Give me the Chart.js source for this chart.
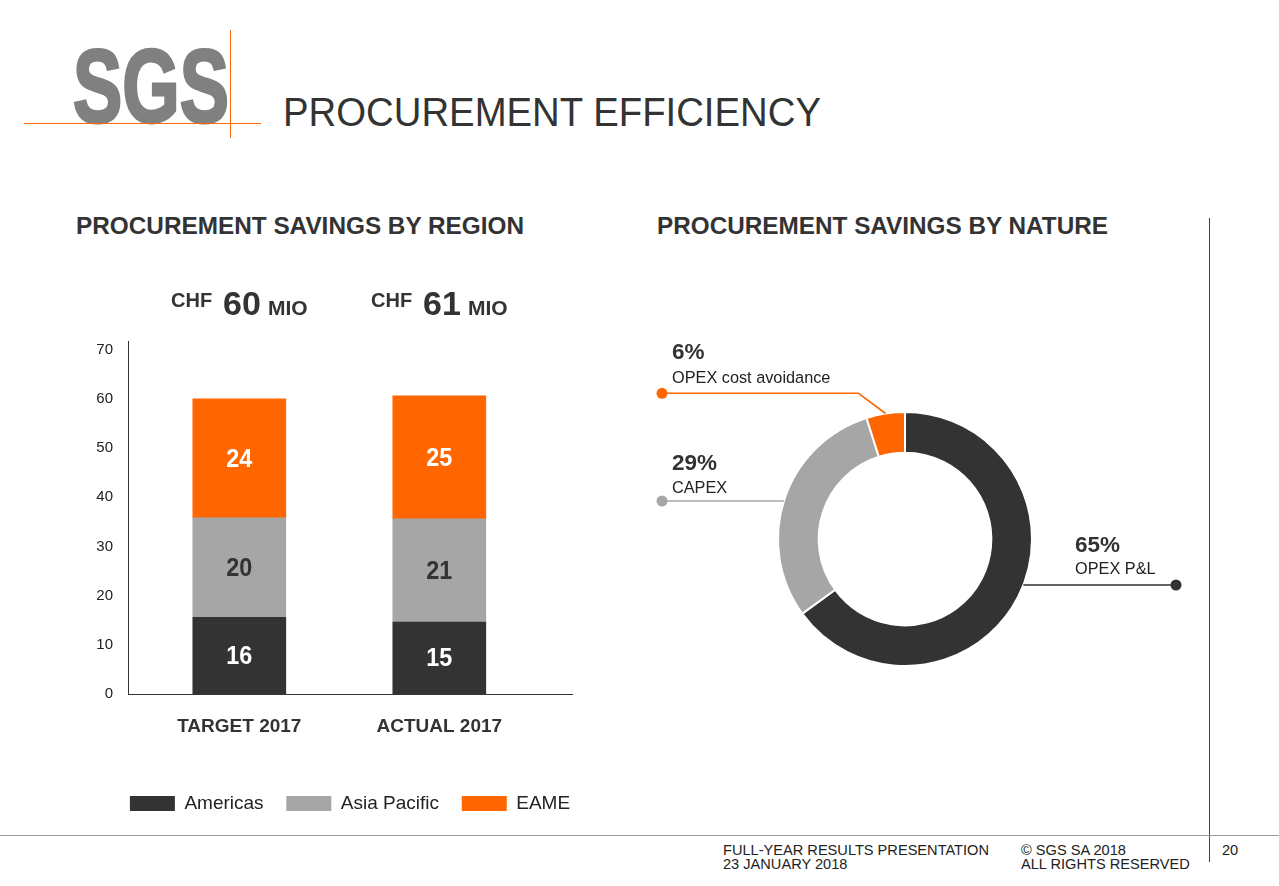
<!DOCTYPE html>
<html>
<head>
<meta charset="utf-8">
<script src="https://cdn.jsdelivr.net/npm/chart.js@4.4.1/dist/chart.umd.min.js"></script>
<style>
html,body{margin:0;padding:0;background:#fff;}
body{width:1279px;height:886px;position:relative;overflow:hidden;font-family:"Liberation Sans",Arial,sans-serif;color:#333;}
.abs{position:absolute;white-space:nowrap;line-height:1;}
.fit{transform-origin:0 0;}
canvas{position:absolute;}
</style>
</head>
<body>
<div class="abs fit" data-w="156" style="left:73px;top:34.3px;font-size:104px;font-weight:bold;color:#808080;-webkit-text-stroke:3px #808080;">SGS</div>
<div class="abs" style="left:24px;top:122.5px;width:237px;height:1.5px;background:#ff6600"></div>
<div class="abs" style="left:229.5px;top:30px;width:1.5px;height:108px;background:#ff6600"></div>
<div class="abs fit" data-w="538" style="left:282.7px;top:91.8px;font-size:40px;color:#333;">PROCUREMENT EFFICIENCY</div>
<div class="abs fit" data-w="448" style="left:76px;top:215.3px;font-size:23.3px;font-weight:bold;color:#333;">PROCUREMENT SAVINGS BY REGION</div>
<div class="abs fit" data-w="451" style="left:657px;top:215.3px;font-size:23.3px;font-weight:bold;color:#333;">PROCUREMENT SAVINGS BY NATURE</div>
<div class="abs" style="left:1208.5px;top:218px;width:1.5px;height:644px;background:#444"></div>
<div class="abs" style="left:0;top:835px;width:1279px;height:1px;background:#999"></div>
<div class="abs" style="left:723px;top:842.6px;font-size:14.6px;color:#222;">FULL-YEAR RESULTS PRESENTATION</div>
<div class="abs" style="left:723px;top:856.6px;font-size:14.6px;color:#222;">23 JANUARY 2018</div>
<div class="abs" style="left:1021px;top:842.6px;font-size:14.6px;color:#222;">© SGS SA 2018</div>
<div class="abs" style="left:1021px;top:856.6px;font-size:14.6px;color:#222;">ALL RIGHTS RESERVED</div>
<div class="abs" style="left:1222px;top:842.6px;font-size:14.6px;color:#222;">20</div>

<canvas id="bar" width="600" height="560" style="left:40px;top:270px;"></canvas>
<canvas id="donut" width="560" height="400" style="left:640px;top:330px;"></canvas>

<script>
// ---- data ----
const regions = ['TARGET 2017', 'ACTUAL 2017'];
const americas = [15.6, 14.6];
const asiaPacific = [20.2, 21.0];
const eame = [24.2, 25.0];
const seriesNames = ['Americas', 'Asia Pacific', 'EAME'];
const yTicks = [0, 10, 20, 30, 40, 50, 60, 70];
const currency = 'CHF';
const unit = 'MIO';

const natureLabels = ['OPEX P&L', 'CAPEX', 'OPEX cost avoidance'];
const natureShares = [65.0, 30.1, 4.9];
const natureShareText = ['65%', '29%', '6%'];

// ---- fit condensed HTML text ----
document.querySelectorAll('.fit').forEach(el => {
  const w = el.getBoundingClientRect().width;
  el.style.transform = 'scaleX(' + (parseFloat(el.dataset.w) / w) + ')';
});

const FAMILY = '"Liberation Sans", Arial, sans-serif';
Chart.defaults.font.family = FAMILY;

const barValueLabels = {
  id: 'barValueLabels',
  afterDatasetsDraw(chart) {
    const ctx = chart.ctx;
    chart.data.datasets.forEach((ds, di) => {
      chart.getDatasetMeta(di).data.forEach((bar, i) => {
        const v = ds.data[i].y;
        ctx.save();
        ctx.font = 'bold 26px ' + FAMILY;
        ctx.fillStyle = ds.labelColor;
        ctx.textAlign = 'center';
        ctx.textBaseline = 'middle';
        ctx.translate(bar.x, (bar.y + bar.base) / 2 + 1);
        ctx.scale(0.9, 1);
        ctx.fillText(String(Math.round(v)), 0, 0);
        ctx.restore();
      });
    });
  }
};

const totalsHeader = {
  id: 'totalsHeader',
  afterDraw(chart) {
    const ctx = chart.ctx;
    const meta = chart.getDatasetMeta(0);
    const top = chart.chartArea.top;
    regions.forEach((r, i) => {
      const total = Math.round(americas[i] + asiaPacific[i] + eame[i]);
      const parts = [
        {t: currency, f: 'bold 20px ' + FAMILY, dy: -34, gap: 11},
        {t: String(total), f: 'bold 34px ' + FAMILY, dy: -26, gap: 7},
        {t: unit, f: 'bold 21px ' + FAMILY, dy: -26, gap: 0}
      ];
      let tw = 0;
      parts.forEach(p => { ctx.font = p.f; p.w = ctx.measureText(p.t).width; tw += p.w + p.gap; });
      let x = meta.data[i].x - tw / 2;
      ctx.save();
      ctx.fillStyle = '#333';
      ctx.textAlign = 'left';
      ctx.textBaseline = 'alphabetic';
      parts.forEach(p => {
        ctx.font = p.f;
        ctx.fillText(p.t, x, top + p.dy);
        x += p.w + p.gap;
      });
      ctx.restore();
    });
  }
};

new Chart(document.getElementById('bar'), {
  type: 'bar',
  data: {
    datasets: [
      {label: seriesNames[0], data: americas.map((v, i) => ({x: i, y: v})), backgroundColor: '#333333', labelColor: '#ffffff'},
      {label: seriesNames[1], data: asiaPacific.map((v, i) => ({x: i, y: v})), backgroundColor: '#a6a6a6', labelColor: '#333333'},
      {label: seriesNames[2], data: eame.map((v, i) => ({x: i, y: v})), backgroundColor: '#ff6600', labelColor: '#ffffff'}
    ]
  },
  options: {
    responsive: false,
    animation: false,
    devicePixelRatio: 1,
    layout: {padding: {left: 38, right: 18, top: 71, bottom: 7}},
    datasets: {bar: {barThickness: 93}},
    scales: {
      x: {
        type: 'linear', stacked: true, offset: false, min: -0.5565, max: 1.6635,
        grid: {display: false, drawTicks: false, offset: false},
        border: {display: true, color: '#333', width: 1},
        ticks: {stepSize: 1, padding: 21, autoSkip: false, maxRotation: 0,
          font: {size: 19, weight: 'bold'}, color: '#333',
          callback: v => (regions[v] !== undefined ? regions[v] : '')},
        afterBuildTicks: s => { s.ticks = regions.map((r, i) => ({value: i})); },
        afterFit: s => { s.height = 77.25; }
      },
      y: {
        stacked: true, min: 0, max: 71.75,
        grid: {display: false, drawTicks: false},
        border: {display: true, color: '#333', width: 1},
        ticks: {stepSize: 10, padding: 15, font: {size: 15}, color: '#222'},
        afterBuildTicks: s => { s.ticks = yTicks.map(v => ({value: v})); },
        afterFit: s => { s.width = 50; }
      },
      spacer: {
        type: 'linear', position: 'right', display: true,
        grid: {display: false, drawTicks: false},
        border: {display: false},
        ticks: {display: false},
        afterFit: s => { s.width = 50; }
      }
    },
    plugins: {
      legend: {
        position: 'bottom',
        labels: {boxWidth: 45, boxHeight: 15, padding: 22.75, font: {size: 19}, color: '#222'}
      },
      tooltip: {enabled: false}
    }
  },
  plugins: [barValueLabels, totalsHeader]
});

const callouts = {
  id: 'callouts',
  afterDatasetsDraw(chart, args, opts) {
    const ctx = chart.ctx;
    const meta = chart.getDatasetMeta(0);
    const a0 = meta.data[0];
    const cx = a0.x, cy = a0.y, R = a0.outerRadius;
    opts.items.forEach(item => {
      const arc = meta.data[item.index];
      const color = chart.data.datasets[0].backgroundColor[item.index];
      ctx.save();
      ctx.strokeStyle = color;
      ctx.fillStyle = color;
      ctx.lineWidth = 1.6;
      ctx.beginPath();
      ctx.moveTo(item.dotX, item.dotY);
      if (item.elbow) {
        const mid = (arc.startAngle + arc.endAngle) / 2;
        const px = cx + Math.cos(mid) * R, py = cy + Math.sin(mid) * R;
        ctx.lineTo(px - item.elbow, item.dotY);
        ctx.lineTo(px, py);
      } else {
        const dy = item.dotY - cy;
        const dx = Math.sqrt(Math.max(R * R - dy * dy, 0));
        ctx.lineTo(cx + item.side * dx, item.dotY);
      }
      ctx.stroke();
      ctx.beginPath();
      ctx.arc(item.dotX, item.dotY, 5.5, 0, Math.PI * 2);
      ctx.fill();
      ctx.textAlign = 'left';
      ctx.textBaseline = 'alphabetic';
      ctx.fillStyle = '#333';
      ctx.font = 'bold 22.5px ' + FAMILY;
      ctx.fillText(natureShareText[item.index], item.textX, item.pctY);
      ctx.fillStyle = '#222';
      ctx.font = '16.3px ' + FAMILY;
      ctx.fillText(natureLabels[item.index], item.textX, item.nameY);
      ctx.restore();
    });
  }
};

new Chart(document.getElementById('donut'), {
  type: 'doughnut',
  data: {
    labels: natureLabels,
    datasets: [{
      data: natureShares,
      backgroundColor: ['#333333', '#a6a6a6', '#ff6600'],
      borderColor: '#ffffff',
      borderWidth: 2
    }]
  },
  options: {
    responsive: false,
    animation: false,
    devicePixelRatio: 1,
    radius: 127,
    cutout: '68%',
    layout: {padding: {left: 0, right: 30, top: 18, bottom: 0}},
    plugins: {
      legend: {display: false},
      tooltip: {enabled: false},
      callouts: {
        items: [
          {index: 2, dotX: 22, dotY: 63.3, elbow: 27, textX: 32, pctY: 29, nameY: 53.3},
          {index: 1, dotX: 22, dotY: 171, side: -1, textX: 32, pctY: 140, nameY: 162.5},
          {index: 0, dotX: 536, dotY: 255, side: 1, textX: 435, pctY: 221.7, nameY: 244.3}
        ]
      }
    }
  },
  plugins: [callouts]
});
</script>
</body>
</html>
